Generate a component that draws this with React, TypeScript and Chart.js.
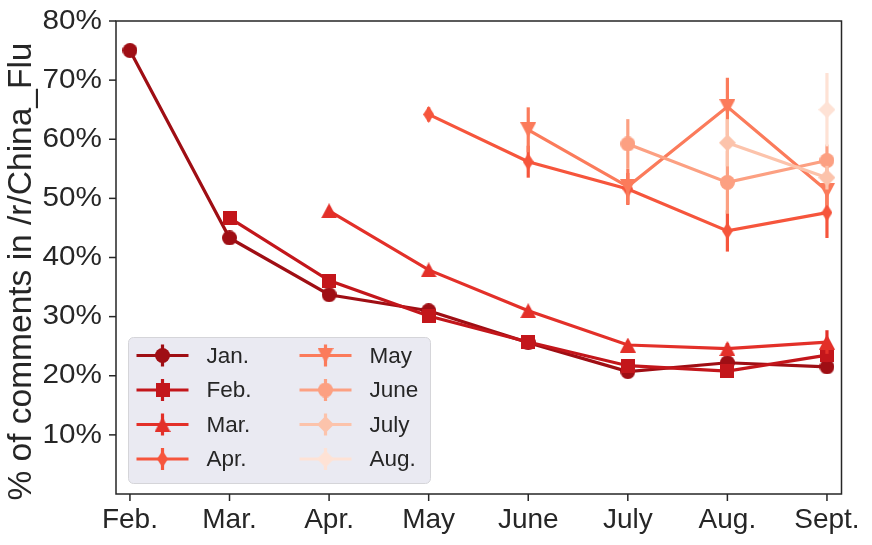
import React, { useEffect, useRef } from 'react';
import { Chart, registerables } from 'chart.js';
Chart.register(...registerables);

const months = ['Feb.', 'Mar.', 'Apr.', 'May', 'June', 'July', 'Aug.', 'Sept.'];
const seriesNames = ['Jan.', 'Feb.', 'Mar.', 'Apr.', 'May', 'June', 'July', 'Aug.'];
const yTickValues = [10, 20, 30, 40, 50, 60, 70, 80];
const seriesColors = ['#9f0e14', '#c3161b', '#e33029', '#f6553c', '#fb7b5b', '#fca082', '#fcc3ab', '#fee2d5'];
const seriesMarkers = ['circle', 'square', 'triUp', 'thinDiamond', 'triDown', 'circle', 'diamond', 'diamond'];
const yAxisTitle = '% of comments in /r/China_Flu';

const janValues = [75.0, 43.3, 33.7, 31.0, 25.6, 20.7, 22.2, 21.5];
const janErrors = [0.3, 0.4, 0.4, 0.4, 0.4, 0.4, 0.5, 0.5];
const febValues = [null, 46.7, 36.1, 30.1, 25.7, 21.7, 20.8, 23.5];
const febErrors = [null, 0.5, 0.5, 0.5, 0.5, 0.6, 0.7, 1.2];
const marValues = [null, null, 47.9, 37.9, 31.0, 25.2, 24.6, 25.7];
const marErrors = [null, null, 0.6, 0.6, 0.6, 0.7, 0.9, 2.0];
const aprValues = [null, null, null, 64.2, 56.2, 51.6, 44.5, 47.6];
const aprErrors = [null, null, null, 1.2, 2.7, 2.7, 3.5, 4.3];
const mayValues = [null, null, null, null, 61.6, 52.0, 65.5, 51.3];
const mayErrors = [null, null, null, null, 3.8, 3.0, 4.9, 2.5];
const juneValues = [null, null, null, null, null, 59.2, 52.7, 56.4];
const juneErrors = [null, null, null, null, null, 4.2, 5.3, 2.7];
const julyValues = [null, null, null, null, null, null, 59.4, 53.5];
const julyErrors = [null, null, null, null, null, null, 4.0, 2.0];
const augValues = [null, null, null, null, null, null, null, 65.0];
const augErrors = [null, null, null, null, null, null, null, 6.2];

const allValues = [janValues, febValues, marValues, aprValues, mayValues, juneValues, julyValues, augValues];
const allErrors = [janErrors, febErrors, marErrors, aprErrors, mayErrors, juneErrors, julyErrors, augErrors];

const FONT = '"Liberation Sans", Arial, sans-serif';
const TEXT_COLOR = '#262626';

function makeMarker(kind: string, color: string): HTMLCanvasElement {
  const c = document.createElement('canvas');
  let w = 15, h = 15;
  if (kind === 'square') { w = 14; h = 14; }
  if (kind === 'triUp' || kind === 'triDown') { w = 16; h = 15; }
  if (kind === 'thinDiamond') { w = 11; h = 17; }
  if (kind === 'diamond') { w = 17; h = 17; }
  c.width = w; c.height = h;
  const ctx = c.getContext('2d')!;
  ctx.fillStyle = color;
  ctx.beginPath();
  if (kind === 'circle') {
    ctx.arc(w / 2, h / 2, w / 2, 0, Math.PI * 2);
  } else if (kind === 'square') {
    ctx.rect(0, 0, w, h);
  } else if (kind === 'triUp') {
    ctx.moveTo(w / 2, 0); ctx.lineTo(w, h); ctx.lineTo(0, h); ctx.closePath();
  } else if (kind === 'triDown') {
    ctx.moveTo(0, 0); ctx.lineTo(w, 0); ctx.lineTo(w / 2, h); ctx.closePath();
  } else {
    ctx.moveTo(w / 2, 0); ctx.lineTo(w, h / 2); ctx.lineTo(w / 2, h); ctx.lineTo(0, h / 2); ctx.closePath();
  }
  ctx.fill();
  return c;
}

function drawText(ctx: CanvasRenderingContext2D, str: string, x: number, y: number, align: CanvasTextAlign, baseline: CanvasTextBaseline, size: number, sx = 1, sy = 1, rot = 0) {
  ctx.save();
  ctx.translate(x, y);
  if (rot) ctx.rotate(rot);
  ctx.scale(sx, sy);
  ctx.font = `${size}px ${FONT}`;
  ctx.fillStyle = TEXT_COLOR;
  ctx.textAlign = align;
  ctx.textBaseline = baseline;
  ctx.fillText(str, 0, 0);
  ctx.restore();
}

let markerImages: HTMLCanvasElement[] = [];

const decorPlugin = {
  id: 'decor',
  beforeDatasetDraw(chart: any, args: any) {
    const i = args.index;
    const errs = allErrors[i];
    const vals = allValues[i];
    const xs = chart.scales.x, ys = chart.scales.y;
    const ctx = chart.ctx;
    ctx.save();
    ctx.strokeStyle = seriesColors[i];
    ctx.lineWidth = 3.2;
    ctx.lineCap = 'butt';
    vals.forEach((v: number | null, k: number) => {
      const e = errs[k];
      if (v == null || e == null) return;
      const px = xs.getPixelForValue(k);
      ctx.beginPath();
      ctx.moveTo(px, ys.getPixelForValue(v + e));
      ctx.lineTo(px, ys.getPixelForValue(v - e));
      ctx.stroke();
    });
    ctx.restore();
  },
  afterDraw(chart: any) {
    const ctx = chart.ctx as CanvasRenderingContext2D;
    const { left, right, top, bottom } = chart.chartArea;
    const xs = chart.scales.x, ys = chart.scales.y;
    ctx.save();
    // frame
    ctx.strokeStyle = TEXT_COLOR;
    ctx.lineWidth = 1.5;
    ctx.strokeRect(left, top, right - left, bottom - top);
    // y ticks
    yTickValues.forEach((v) => {
      const py = ys.getPixelForValue(v);
      ctx.beginPath();
      ctx.moveTo(left - 7, py); ctx.lineTo(left, py); ctx.stroke();
      drawText(ctx, `${v}%`, left - 14, py, 'right', 'middle', 28, 1.06);
    });
    months.forEach((m, k) => {
      const px = xs.getPixelForValue(k);
      ctx.beginPath();
      ctx.moveTo(px, bottom); ctx.lineTo(px, bottom + 7); ctx.stroke();
      drawText(ctx, m, px, bottom + 12, 'center', 'top', 28);
    });
    // y title
    drawText(ctx, yAxisTitle, 22, 271.5, 'center', 'middle', 33.5, 1, 1, -Math.PI / 2);

    // legend
    const lx = 128.5, ly = 337.5, lw = 302, lh = 146;
    ctx.beginPath();
    ctx.roundRect(lx, ly, lw, lh, 5);
    ctx.fillStyle = '#eaeaf2';
    ctx.fill();
    ctx.strokeStyle = '#d5d5d9';
    ctx.lineWidth = 1;
    ctx.stroke();
    seriesNames.forEach((name, i) => {
      const col = Math.floor(i / 4);
      const row = i % 4;
      const x0 = col === 0 ? 136.5 : 299.5;
      const cy = 355.5 + row * 34.5;
      const mx = x0 + 26;
      ctx.strokeStyle = seriesColors[i];
      ctx.lineWidth = 3.2;
      ctx.beginPath();
      ctx.moveTo(x0, cy); ctx.lineTo(x0 + 52, cy);
      ctx.moveTo(mx, cy - 11); ctx.lineTo(mx, cy + 11);
      ctx.stroke();
      const img = markerImages[i];
      ctx.drawImage(img, mx - img.width / 2, cy - img.height / 2);
      drawText(ctx, name, x0 + 70, cy + 1, 'left', 'middle', 22.5);
    });
    ctx.restore();
  },
};

export default function App() {
  const ref = useRef<HTMLCanvasElement>(null);
  useEffect(() => {
    markerImages = seriesColors.map((c, i) => makeMarker(seriesMarkers[i], c));
    const datasets = allValues.map((vals, i) => ({
      label: seriesNames[i],
      data: vals.map((v, k) => (v == null ? null : { x: k, y: v })).filter((p) => p !== null),
      borderColor: seriesColors[i],
      backgroundColor: seriesColors[i],
      borderWidth: 3.2,
      pointStyle: markerImages[i],
      pointRadius: 7,
      tension: 0,
      order: 8 - i,
    }));
    const chart = new Chart(ref.current!, {
      type: 'line',
      data: { datasets } as any,
      options: {
        animation: false,
        responsive: false,
        devicePixelRatio: 1,
        layout: { padding: { left: 116, top: 21, right: 30.5, bottom: 51 } },
        plugins: { legend: { display: false }, tooltip: { enabled: false } },
        scales: {
          x: { type: 'linear', min: -0.14, max: 7.146, display: false },
          y: { type: 'linear', min: 0, max: 80, display: false },
        },
      },
      plugins: [decorPlugin],
    });
    return () => chart.destroy();
  }, []);
  return (
    <div style={{ position: 'fixed', left: 0, top: 0, width: 872, height: 545, background: '#fff' }}>
      <canvas ref={ref} width={872} height={545} />
    </div>
  );
}
